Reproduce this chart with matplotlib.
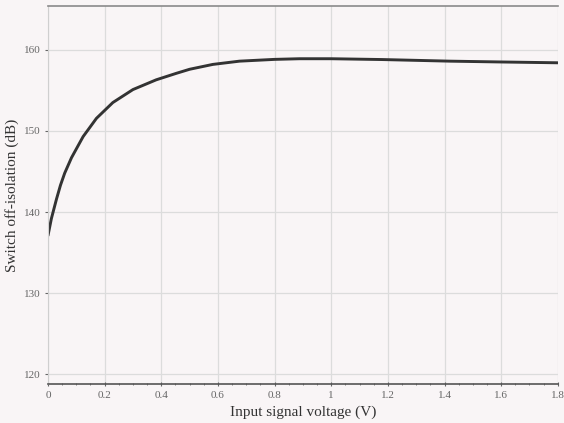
import matplotlib.pyplot as plt
from matplotlib.ticker import MultipleLocator

# values
voltage = [0.0, 0.012, 0.03, 0.044, 0.059, 0.083, 0.124, 0.171, 0.229, 0.30,
           0.382, 0.453, 0.5, 0.582, 0.676, 0.8, 0.888, 1.0, 1.18, 1.42, 1.6, 1.8]
isolation = [137.1, 139.2, 141.6, 143.3, 144.8, 146.7, 149.3, 151.55, 153.5, 155.1,
             156.3, 157.1, 157.6, 158.2, 158.6, 158.82, 158.9, 158.9, 158.8, 158.6,
             158.5, 158.4]

x_ticks = [0, 0.2, 0.4, 0.6, 0.8, 1, 1.2, 1.4, 1.6, 1.8]
x_tick_labels = ['0', '0.2', '0.4', '0.6', '0.8', '1', '1.2', '1.4', '1.6', '1.8']
y_ticks = [120, 130, 140, 150, 160]

bg = '#f9f5f6'
plt.rcParams['font.family'] = ['Liberation Serif', 'DejaVu Serif']

fig = plt.figure(figsize=(5.64, 4.23), dpi=100, facecolor=bg)
ax = fig.add_axes([0.0851, 0.0922, 0.9039, 0.8936], facecolor=bg)

ax.plot(voltage, isolation, color='#333333', linewidth=2.1,
        solid_capstyle='round', solid_joinstyle='round')

ax.set_xlim(0, 1.8)
ax.set_ylim(118.8, 165.4)
ax.set_xticks(x_ticks)
ax.set_xticklabels(x_tick_labels)
ax.set_yticks(y_ticks)
ax.xaxis.set_minor_locator(MultipleLocator(0.05))

ax.grid(True, which='major', color='#dcdcdc', linewidth=0.9)
ax.set_axisbelow(True)

ax.spines['right'].set_visible(False)
ax.spines['left'].set_color('#cfcfcf')
ax.spines['top'].set_color('#8a8a8a')
ax.spines['top'].set_linewidth(1.2)
ax.spines['bottom'].set_color('#555555')
ax.spines['bottom'].set_linewidth(1.2)

ax.tick_params(axis='both', labelsize=8, colors='#666666', length=2)
ax.tick_params(axis='x', which='minor', length=2, color='#666666', direction='inout')
ax.tick_params(axis='x', which='major', direction='inout', length=3)

ax.set_xlabel('Input signal voltage (V)', fontsize=11, color='#333333', labelpad=4)
ax.set_ylabel('Switch off-isolation (dB)', fontsize=11, color='#333333', labelpad=3)

fig.savefig('out.png', dpi=100, facecolor=bg)
